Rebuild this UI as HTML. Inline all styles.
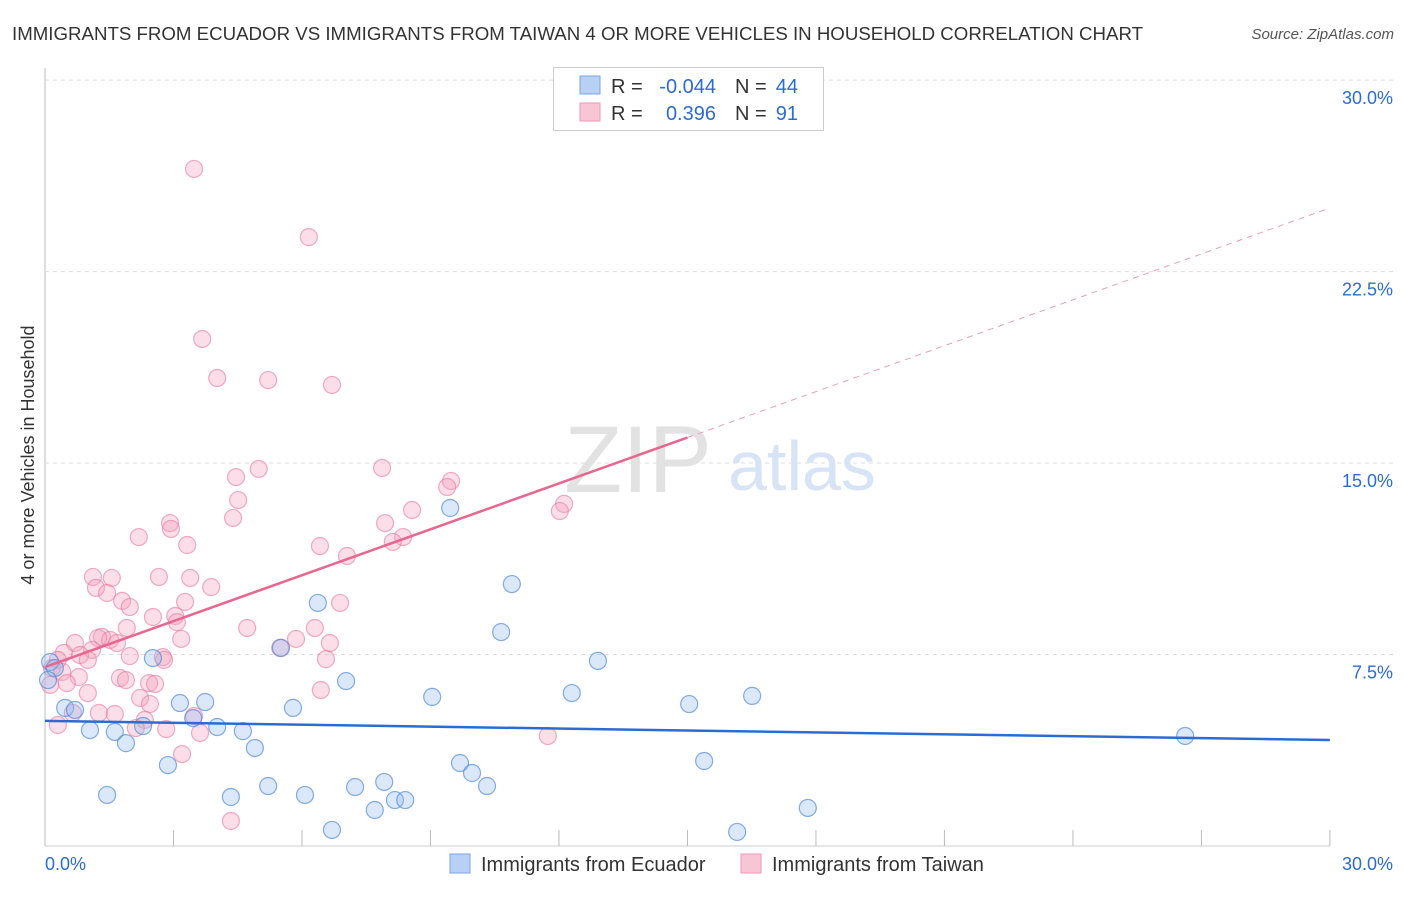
<!DOCTYPE html>
<html><head><meta charset="utf-8"><style>
body{margin:0;background:#fff;font-family:"Liberation Sans",sans-serif;}
svg text{font-family:"Liberation Sans",sans-serif;}
</style></head><body>
<svg width="1406" height="892" xmlns="http://www.w3.org/2000/svg">
<text x="12" y="40" font-size="18" fill="#333" textLength="1131" lengthAdjust="spacingAndGlyphs">IMMIGRANTS FROM ECUADOR VS IMMIGRANTS FROM TAIWAN 4 OR MORE VEHICLES IN HOUSEHOLD CORRELATION CHART</text>
<text x="1394" y="39" font-size="15" fill="#555" text-anchor="end" font-style="italic">Source: ZipAtlas.com</text>
<g id="grid"></g>
<text x="638" y="492" font-size="95" fill="#e2e2e2" text-anchor="middle" font-family="Liberation Serif">ZIP</text>
<text x="802" y="490" font-size="70" fill="#d6e4f5" text-anchor="middle">atlas</text>
<g id="pts"></g>
<g id="lines"></g>
<text x="34" y="455" font-size="18" fill="#333" text-anchor="middle" transform="rotate(-90 34 455)">4 or more Vehicles in Household</text>
<g>
<rect x="553.5" y="67.5" width="270" height="63" fill="#fff" stroke="#ccc"/>
<rect x="580" y="76" width="20" height="18" fill="#b8d0f3" stroke="#7aa6e6"/>
<rect x="580" y="103" width="20" height="18" fill="#f8c5d5" stroke="#ee9ab5"/>
<text x="611" y="93" font-size="20" fill="#333">R = </text><text x="716" y="93" font-size="20" fill="#2b6cd4" text-anchor="end">-0.044</text>
<text x="735" y="93" font-size="20" fill="#333">N = </text><text x="798" y="93" font-size="20" fill="#2b6cd4" text-anchor="end">44</text>
<text x="611" y="120" font-size="20" fill="#333">R = </text><text x="716" y="120" font-size="20" fill="#2b6cd4" text-anchor="end">0.396</text>
<text x="735" y="120" font-size="20" fill="#333">N = </text><text x="798" y="120" font-size="20" fill="#2b6cd4" text-anchor="end">91</text>
</g>
<g>
<rect x="450" y="854" width="20" height="19" fill="#b8d0f3" stroke="#7aa6e6"/>
<text x="481" y="871" font-size="20" fill="#333">Immigrants from Ecuador</text>
<rect x="741" y="854" width="20" height="19" fill="#f8c5d5" stroke="#ee9ab5"/>
<text x="772" y="871" font-size="20" fill="#333">Immigrants from Taiwan</text>
</g>
</svg>
<script>
const yTicks=[7.5,15,22.5,30];
const yTickLabels=["7.5%","15.0%","22.5%","30.0%"];
const xTicks=[3,6,9,12,15,18,21,24,27,30];
const ecuadorX=[0.12,0.23,0.07,0.47,0.70,1.05,1.63,1.89,2.29,2.52,2.87,1.45,3.15,3.46,3.74,4.02,4.62,4.90,4.34,5.21,5.51,5.79,6.07,6.37,6.70,7.03,7.24,7.70,7.92,8.17,8.41,9.04,9.46,9.69,9.97,10.32,10.65,10.90,12.30,12.91,15.04,15.39,16.16,16.51,17.81,26.62];
const ecuadorY=[7.21,6.97,6.50,5.41,5.33,4.54,4.47,4.03,4.70,7.36,3.17,2.00,5.60,5.01,5.64,4.66,4.50,3.84,1.92,2.35,7.76,5.41,2.00,9.52,0.63,6.46,2.31,1.41,2.51,1.80,1.80,5.84,13.24,3.25,2.86,2.35,8.38,10.26,5.99,7.25,5.56,3.33,0.55,5.88,1.49,4.31];
const taiwanX=[3.48,6.16,3.67,4.02,5.21,6.70,4.99,7.87,4.46,9.48,9.39,4.51,12.12,12.02,8.57,4.39,2.92,2.94,7.94,2.19,8.36,8.12,3.32,6.42,7.05,1.12,1.56,2.66,3.39,1.19,3.88,1.45,1.80,1.98,3.27,6.89,2.52,3.04,3.08,1.91,4.72,6.30,1.33,1.52,1.24,3.18,5.86,0.70,1.68,6.65,1.10,0.44,0.82,1.98,2.75,0.30,1.00,5.49,2.78,6.56,0.16,0.40,0.79,1.75,2.43,2.57,1.89,0.51,0.12,6.44,1.00,2.22,2.45,1.26,1.63,0.65,3.48,2.33,0.30,2.83,2.12,3.62,3.20,11.74,4.34];
const taiwanY=[26.52,23.85,19.86,18.33,18.25,18.06,14.77,14.81,14.45,14.30,14.06,13.55,13.40,13.12,13.16,12.85,12.65,12.42,12.65,12.10,12.10,11.91,11.79,11.75,11.36,10.54,10.50,10.54,10.50,10.11,10.14,9.91,9.60,9.36,9.56,9.52,8.97,9.01,8.77,8.54,8.54,8.54,8.19,8.07,8.15,8.11,8.11,7.95,7.95,7.95,7.68,7.56,7.48,7.44,7.40,7.29,7.29,7.76,7.29,7.32,6.97,6.82,6.62,6.58,6.38,6.35,6.50,6.38,6.31,6.11,5.99,5.80,5.56,5.21,5.17,5.21,5.09,4.94,4.74,4.58,4.62,4.43,3.60,4.31,0.98];
const ecuadorTrend=[4.90,4.15];
const taiwanTrend=[7.01,24.99];
const taiwanSolidEnd=15;
const NS="http://www.w3.org/2000/svg";
const X=v=>45+v*42.83, Y=v=>846-v*25.53;
function mk(t,a,p){const e=document.createElementNS(NS,t);for(const k in a)e.setAttribute(k,a[k]);p.appendChild(e);return e;}
const grid=document.getElementById('grid');
mk('line',{x1:45,y1:68,x2:45,y2:846,stroke:'#bbb'},grid);
mk('line',{x1:45,y1:846,x2:1330,y2:846,stroke:'#ccc'},grid);
yTicks.forEach((v,i)=>{
 const l=mk('line',{x1:45,y1:Y(v),x2:1394,y2:Y(v),stroke:'#ddd','stroke-dasharray':'4,4'},grid);
 
 
 const t=mk('text',{x:1393,y:Y(v)+24,'font-size':18,fill:'#2b6cd4','text-anchor':'end'},grid);t.textContent=yTickLabels[i];
 
 
});
xTicks.forEach(v=>{const l=mk('line',{x1:X(v),y1:830,x2:X(v),y2:846,stroke:'#bbb'},grid);
 
 });
const t0=mk('text',{x:45,y:870,'font-size':18,fill:'#2b6cd4'},grid);t0.textContent='0.0%';


const t1=mk('text',{x:1393,y:870,'font-size':18,fill:'#2b6cd4','text-anchor':'end'},grid);t1.textContent='30.0%';


const pts=document.getElementById('pts');
taiwanX.forEach((x,i)=>{const c=mk('circle',{cx:X(x),cy:Y(taiwanY[i]),r:8.5,fill:'rgba(244,160,188,0.35)',stroke:'rgba(232,120,158,0.6)','stroke-width':1.2},pts);
 
 });
ecuadorX.forEach((x,i)=>{const c=mk('circle',{cx:X(x),cy:Y(ecuadorY[i]),r:8.5,fill:'rgba(150,190,240,0.35)',stroke:'rgba(70,130,215,0.65)','stroke-width':1.2},pts);
 
 });
const ln=document.getElementById('lines');
const b=mk('line',{x1:X(0),y1:Y(ecuadorTrend[0]),x2:X(30),y2:Y(ecuadorTrend[1]),stroke:'#2b6cd4','stroke-width':2.5},ln);


const ty=v=>taiwanTrend[0]+(taiwanTrend[1]-taiwanTrend[0])*v/30;
const p1=mk('line',{x1:X(0),y1:Y(ty(0)),x2:X(taiwanSolidEnd),y2:Y(ty(taiwanSolidEnd)),stroke:'#e8668f','stroke-width':2.5},ln);


const p2=mk('line',{x1:X(taiwanSolidEnd),y1:Y(ty(taiwanSolidEnd)),x2:X(30),y2:Y(ty(30)),stroke:'#e8a0b8','stroke-width':1,'stroke-dasharray':'6,5'},ln);


</script>
</body></html>
